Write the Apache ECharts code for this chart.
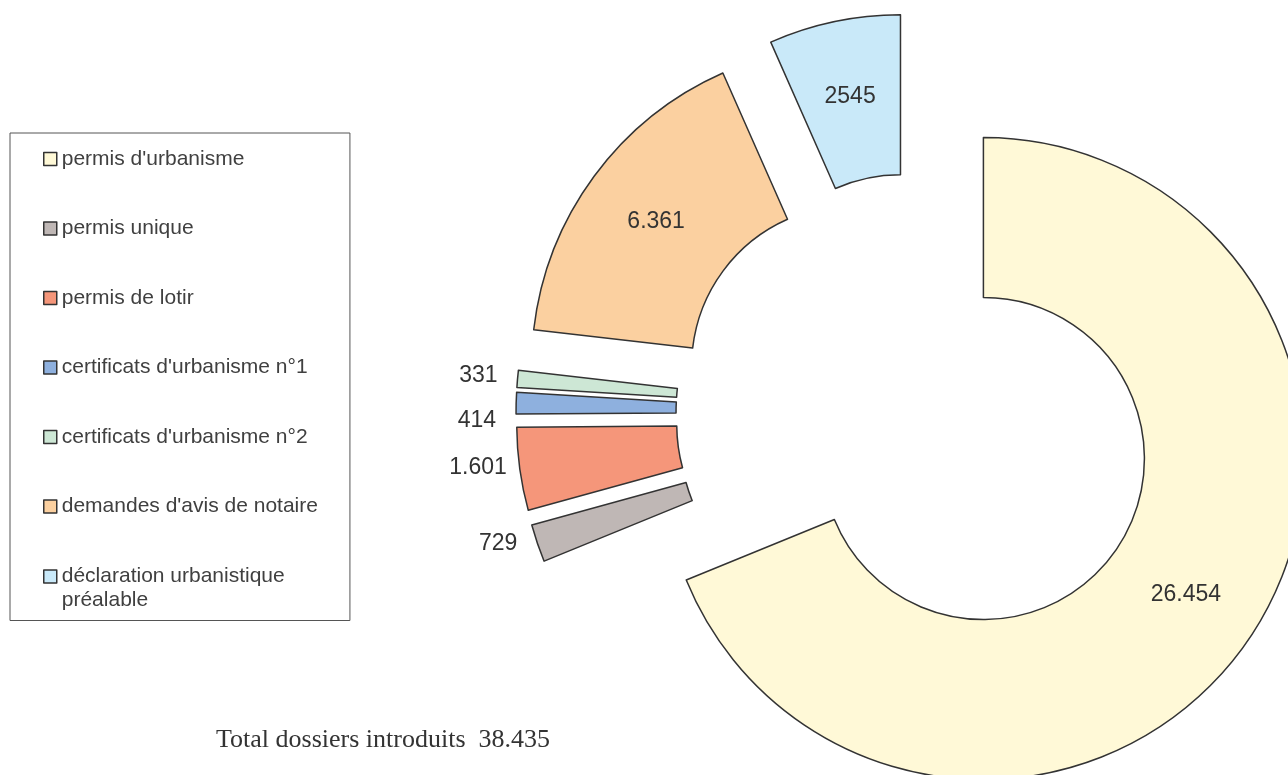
<!DOCTYPE html>
<html>
<head>
<meta charset="utf-8">
<script src="https://cdn.jsdelivr.net/npm/echarts@6/dist/echarts.min.js"></script>
<style>
  html, body { margin: 0; padding: 0; background: #ffffff; }
  #chart { width: 1288px; height: 775px; }
</style>
</head>
<body>
<div id="chart"></div>
<script>
// ---- data ----
const categories = [
  "permis d'urbanisme",
  "permis unique",
  "permis de lotir",
  "certificats d'urbanisme n°1",
  "certificats d'urbanisme n°2",
  "demandes d'avis de notaire",
  "déclaration urbanistique préalable"
];
const legendLines = [
  ["permis d'urbanisme"],
  ["permis unique"],
  ["permis de lotir"],
  ["certificats d'urbanisme n°1"],
  ["certificats d'urbanisme n°2"],
  ["demandes d'avis de notaire"],
  ["déclaration urbanistique", "préalable"]
];
const values = [26454, 729, 1601, 414, 331, 6361, 2545];
const valueLabels = ["26.454", "729", "1.601", "414", "331", "6.361", "2545"];
const totalLabel = "Total dossiers introduits  38.435";

// ---- styles ----
const colors = ["#FFF9D7", "#BFB7B5", "#F5967A", "#8EB0DE", "#CDE7D5", "#FBD0A0", "#C9E9F9"];
// small nudges of the outside value labels (dx, dy), by slice index
const labelNudge = { 2: [7, -1], 3: [0, 17], 4: [0, -3] };
const total = values.reduce((a, b) => a + b, 0);

const chart = echarts.init(document.getElementById('chart'), null, { renderer: 'canvas' });

const pieData = categories.map((name, i) => {
  const inside = values[i] / total > 0.05;
  return {
    name: name,
    value: values[i],
    selected: true,
    itemStyle: { color: colors[i] },
    label: {
      position: inside ? 'inside' : 'outside',
      formatter: valueLabels[i]
    }
  };
});

const option = {
  animation: false,
  backgroundColor: '#ffffff',
  title: {
    text: totalLabel,
    left: 211,
    top: 722,
    textStyle: {
      fontFamily: 'Liberation Serif',
      fontWeight: 'normal',
      fontSize: 26,
      color: '#333333'
    }
  },
  legend: {
    orient: 'vertical',
    left: 10,
    top: 133,
    padding: [14, 32, 10, 33],
    itemGap: 45.5,
    itemWidth: 13,
    itemHeight: 13,
    icon: 'rect',
    borderColor: '#555555',
    borderWidth: 1,
    selectedMode: false,
    itemStyle: { borderColor: '#333333', borderWidth: 1.5 },
    data: categories,
    formatter: function (name) {
      const lines = legendLines[categories.indexOf(name)];
      if (lines.length === 1) return lines[0];
      return '{a|' + lines[0] + '}\n{b|' + lines[1] + '}';
    },
    textStyle: {
      fontFamily: 'Liberation Sans',
      fontSize: 21,
      lineHeight: 24,
      color: '#404040',
      rich: {
        a: { fontFamily: 'Liberation Sans', fontSize: 21, lineHeight: 24, color: '#404040' },
        b: { fontFamily: 'Liberation Sans', fontSize: 21, lineHeight: 1, verticalAlign: 'top', padding: [1.5, 0, 0, 0], color: '#404040' }
      }
    }
  },
  series: [{
    type: 'pie',
    center: [917, 414],
    radius: [161, 321],
    startAngle: 90,
    clockwise: true,
    selectedMode: 'multiple',
    selectedOffset: 80,
    avoidLabelOverlap: false,
    emphasis: { disabled: true },
    itemStyle: { borderColor: '#333333', borderWidth: 1.5 },
    label: {
      show: true,
      fontFamily: 'Liberation Sans',
      fontSize: 23,
      color: '#333333',
      distanceToLabelLine: 5
    },
    labelLine: { show: false, length: 0, length2: 15 },
    labelLayout: function (params) {
      const n = labelNudge[params.dataIndex] || [0, 0];
      return { dx: n[0], dy: n[1], hideOverlap: false, moveOverlap: null };
    },
    data: pieData
  }]
};

chart.setOption(option);
</script>
</body>
</html>
